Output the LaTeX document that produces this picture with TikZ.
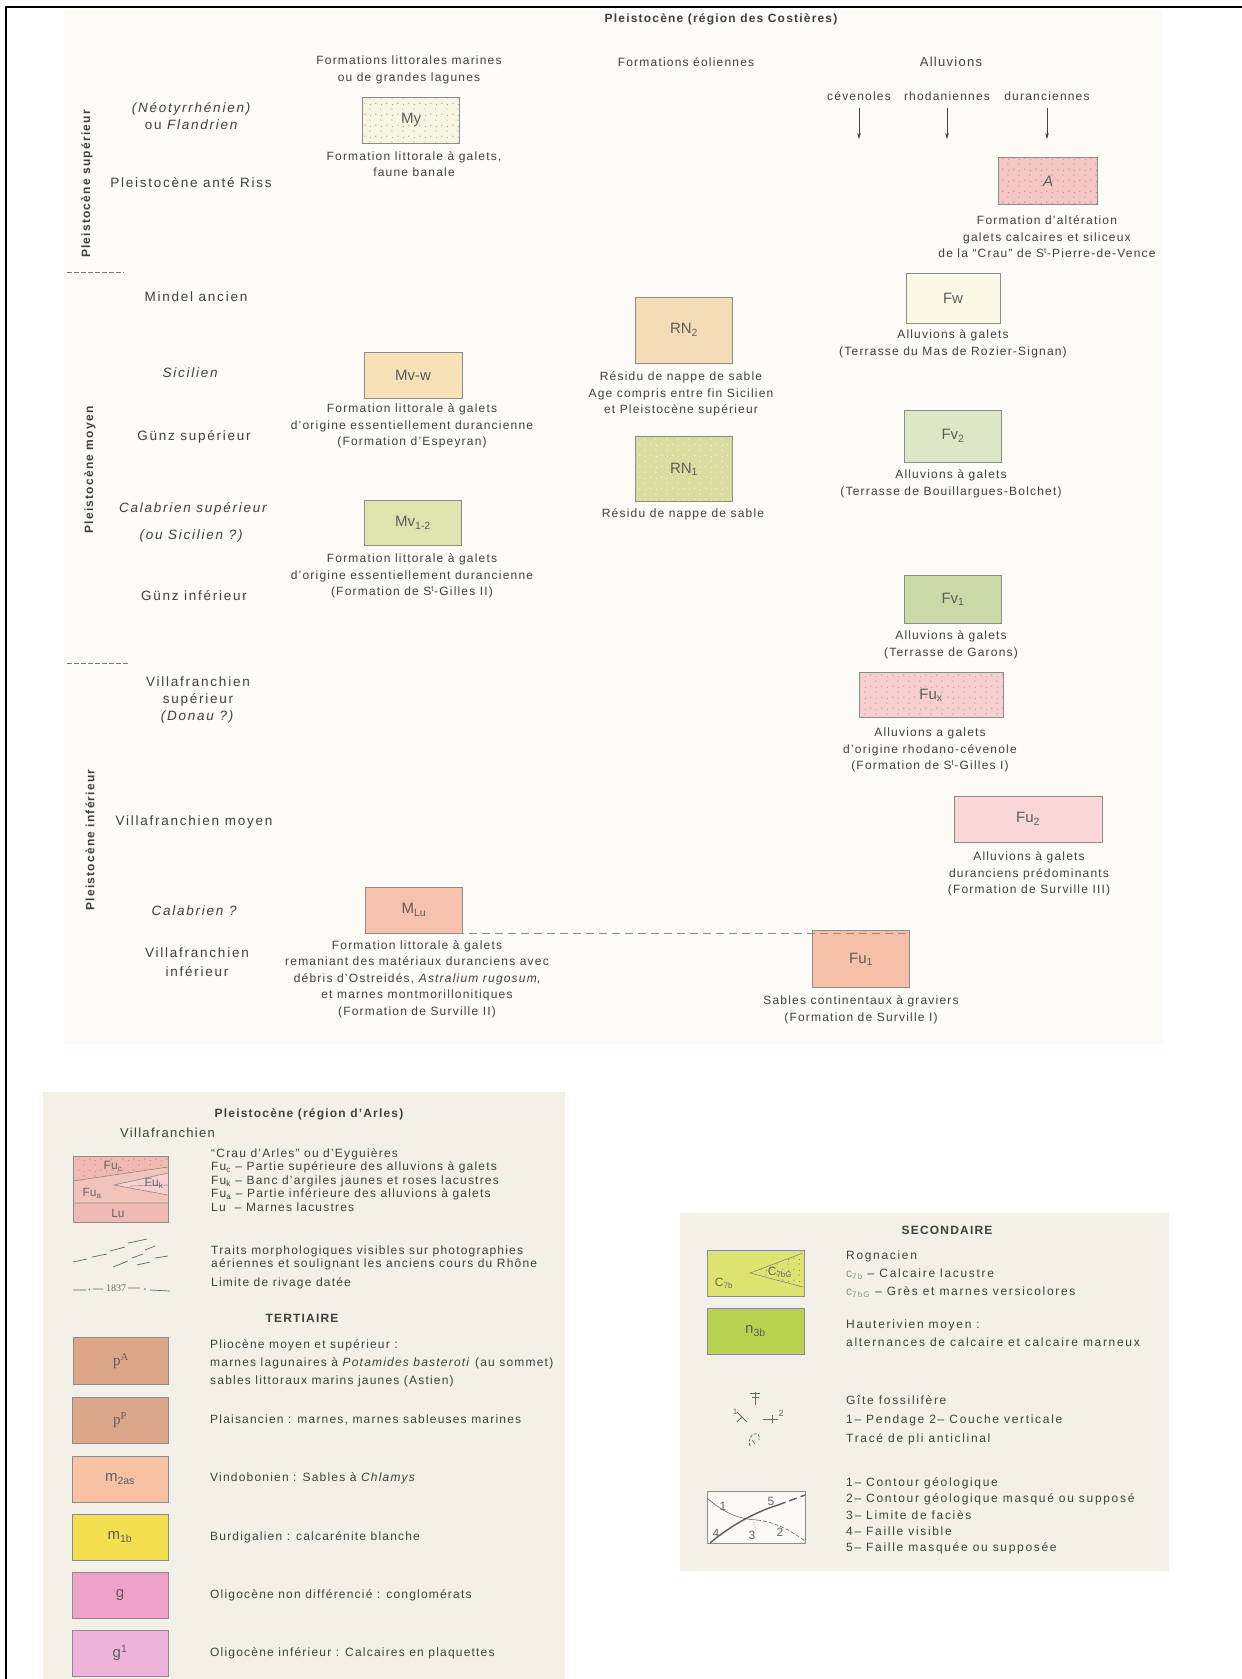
\documentclass[tikz,border=0pt]{standalone}
\usepackage{fontspec}
\setmainfont{Liberation Sans}[LetterSpace=10]
\newfontfamily\agefont{Liberation Sans}[LetterSpace=13, Ligatures=TeX]
\newfontfamily\notefont{Liberation Sans}[LetterSpace=10, Ligatures=TeX]
\newfontfamily\secfont{Liberation Sans}[LetterSpace=14, Ligatures=TeX]
\newfontfamily\tagfont{Liberation Sans}[Ligatures=TeX]
\newfontfamily\oldfont{Liberation Serif}[Ligatures=TeX]
\usetikzlibrary{arrows.meta, patterns.meta, positioning}

\definecolor{ink}{HTML}{404040}
\definecolor{edge}{HTML}{8C8C8C}
\definecolor{paper}{HTML}{FCFBF5}
\definecolor{panel}{HTML}{F2F0E7}
\definecolor{cMy}{HTML}{F7F5E2}
\definecolor{cA}{HTML}{F4C6C4}
\definecolor{cFw}{HTML}{FAF9E6}
\definecolor{cRNb}{HTML}{F4DCB6}
\definecolor{cRNa}{HTML}{D8DC9F}
\definecolor{cMvw}{HTML}{F7E2B8}
\definecolor{cMvz}{HTML}{DDE4AE}
\definecolor{cFvb}{HTML}{DCE7C6}
\definecolor{cFva}{HTML}{C9DAA8}
\definecolor{cFux}{HTML}{F7CFCF}
\definecolor{cFub}{HTML}{F8D7D6}
\definecolor{cFua}{HTML}{F6C0A8}
\definecolor{cML}{HTML}{F6C2AE}
\definecolor{cpA}{HTML}{DDA688}
\definecolor{cpP}{HTML}{DBA68A}
\definecolor{cmza}{HTML}{F7C1A3}
\definecolor{cmib}{HTML}{F2DF4E}
\definecolor{cg}{HTML}{EFA2C9}
\definecolor{cgi}{HTML}{EEB4DB}
\definecolor{cc}{HTML}{DCE36F}
\definecolor{cn}{HTML}{B9D24F}
\definecolor{cFuc}{HTML}{F1B9B1}
\definecolor{cFum}{HTML}{F2C3BB}
\definecolor{cLu}{HTML}{EFBAB3}

\tikzdeclarepattern{
  name=grains,
  type=uncolored,
  bounding box={(0pt,0pt) and (11pt,11pt)},
  tile size={(11pt,11pt)},
  code={
    \pgfpathcircle{\pgfqpoint{2pt}{3pt}}{0.65pt}
    \pgfpathcircle{\pgfqpoint{7.5pt}{8.5pt}}{0.65pt}
    \pgfpathcircle{\pgfqpoint{8pt}{1.5pt}}{0.5pt}
    \pgfusepath{fill}
  }
}

\tikzset{
  every node/.style={text=ink, inner sep=0pt},
  head/.style={font=\bfseries\fontsize{12}{14}\selectfont},
  period/.style={font=\bfseries\fontsize{12}{14}\selectfont, rotate=90},
  age/.style={font=\agefont\fontsize{13.5}{17}\selectfont, align=center},
  desc/.style={font=\fontsize{12}{16.5}\selectfont, align=center},
  note/.style={font=\notefont\fontsize{12}{13.5}\selectfont, align=left, anchor=west},
  secnote/.style={font=\secfont\fontsize{12}{18}\selectfont, align=left, anchor=west},
  unit/.style={draw=edge, line width=0.7pt, minimum width=97pt, minimum height=46pt,
    font=\tagfont\fontsize{15}{15}\selectfont, text=ink!85},
  grainy/.style={preaction={fill=#1}, pattern=grains, pattern color=black!45},
  arr/.style={-{Stealth[length=6pt,width=3.5pt]}, line width=0.6pt, draw=ink},
  sep/.style={dash pattern=on 5pt off 2pt, line width=0.6pt, draw=ink!70},
}

\begin{document}
\begin{tikzpicture}[x=1pt, y=-1pt]
\useasboundingbox (0,0) rectangle (1242,1679);
\fill[white] (0,0) rectangle (1242,1679);
\fill[paper] (64,11) rectangle (1162,1044);
\fill[panel] (43,1092) rectangle (565,1679);
\fill[panel] (680,1213) rectangle (1169,1571);
\draw[line width=1.6pt] (6,1679) -- (6,7) -- (1242,7);

% Costieres: headings
\node[head] (ttl) at (721,19) {Pleistocène (région des Costières)};
\node[desc] (hlit) at (409,70) {Formations littorales marines\\ou de grandes lagunes};
\node[desc] (heol) at (686,62) {Formations éoliennes};
\node[desc, font=\fontsize{13}{15}\selectfont] (hall) at (951,62) {Alluvions};
\node[desc] (cev) at (859,96) {cévenoles};
\node[desc] (rho) at (947,96) {rhodaniennes};
\node[desc] (dur) at (1047,96) {duranciennes};
\coordinate (cevE) at (859,139);
\coordinate (rhoE) at (947,139);
\coordinate (durE) at (1047,139);

% Costieres: ages
\node[period] (psup) at (87,184) {Pleistocène supérieur};
\node[period] (pmoy) at (90,470) {Pleistocène moyen};
\node[period] (pinf) at (90,840) {Pleistocène inférieur};
\node[age] (neo) at (192,116) {\textit{(Néotyrrhénien)}\\ou \textit{Flandrien}};
\node[age] (ante) at (191,183) {Pleistocène anté Riss};
\node[age] (mind) at (196,297) {Mindel ancien};
\node[age] (sic) at (191,373) {\textit{Sicilien}};
\node[age] (gsup) at (194,437) {Günz supérieur};
\node[age] (calsup) at (194,509) {\textit{Calabrien supérieur}};
\node[age] (ousic) at (192,536) {\textit{(ou Sicilien ?)}};
\node[age] (ginf) at (194,596) {Günz inférieur};
\node[age] (vsup) at (198,700) {Villafranchien\\supérieur\\\textit{(Donau ?)}};
\node[age] (vmoy) at (194,822) {Villafranchien moyen};
\node[age] (cal) at (195,911) {\textit{Calabrien ?}};
\node[age, font=\agefont\fontsize{13.5}{19}\selectfont] (vinf) at (197,962) {Villafranchien\\inférieur};
\draw[sep] (67,272) -- (124,272);
\draw[sep] (67,663) -- (130,663);

% Costieres: units
\node[unit, grainy=cMy] (My) at (411,120) {My};
\node[unit, grainy=cA, minimum width=99pt, minimum height=47pt] (A) at (1048,181) {\textit{A}};
\node[unit, fill=cFw, minimum width=94pt, minimum height=50pt] (Fw) at (953,298) {Fw};
\node[unit, fill=cRNb, minimum height=66pt] (RNb) at (684,330) {RN\textsubscript{2}};
\node[unit, grainy=cRNa, pattern color=white, minimum height=65pt] (RNa) at (684,469) {RN\textsubscript{1}};
\node[unit, fill=cMvw, minimum width=98pt] (Mvw) at (413,375) {Mv-w};
\node[unit, fill=cMvz, minimum height=45pt] (Mvz) at (413,523) {Mv\textsubscript{1-2}};
\node[unit, fill=cFvb, minimum height=52pt] (Fvb) at (953,436) {Fv\textsubscript{2}};
\node[unit, fill=cFva, minimum height=48pt] (Fva) at (953,599) {Fv\textsubscript{1}};
\node[unit, grainy=cFux, minimum width=144pt, minimum height=45pt] (Fux) at (931,695) {Fu\textsubscript{x}};
\node[unit, fill=cFub, minimum width=148pt] (Fub) at (1028,819) {Fu\textsubscript{2}};
\node[unit, fill=cML] (ML) at (414,910) {M\textsubscript{Lu}};
\node[unit, fill=cFua, minimum height=57pt] (Fua) at (861,959) {Fu\textsubscript{1}};

% Costieres: descriptions
\node[desc] (dMy) at (414,164) {Formation littorale à galets,\\faune banale};
\node[desc] (dA) at (1047,237) {Formation d'altération\\galets calcaires et siliceux\\de la ``Crau'' de S\textsuperscript{t}-Pierre-de-Vence};
\node[desc] (dFw) at (953,344) {Alluvions à galets\\(Terrasse du Mas de Rozier-Signan)};
\node[desc] (dRNb) at (681,394) {Résidu de nappe de sable\\Age compris entre fin Sicilien\\et Pleistocène supérieur};
\node[desc] (dRNa) at (683,514) {Résidu de nappe de sable};
\node[desc] (dMvw) at (412,426) {Formation littorale à galets\\d'origine essentiellement durancienne\\(Formation d'Espeyran)};
\node[desc] (dFvb) at (951,484) {Alluvions à galets\\(Terrasse de Bouillargues-Bolchet)};
\node[desc] (dMvz) at (412,576) {Formation littorale à galets\\d'origine essentiellement durancienne\\(Formation de S\textsuperscript{t}-Gilles II)};
\node[desc] (dFva) at (951,645) {Alluvions à galets\\(Terrasse de Garons)};
\node[desc] (dFux) at (930,750) {Alluvions a galets\\d'origine rhodano-cévenole\\(Formation de S\textsuperscript{t}-Gilles I)};
\node[desc] (dFub) at (1029,874) {Alluvions à galets\\duranciens prédominants\\(Formation de Surville III)};
\node[desc] (dML) at (417,979) {Formation littorale à galets\\remaniant des matériaux duranciens avec\\débris d'Ostreidés, \textit{Astralium rugosum},\\et marnes montmorillonitiques\\(Formation de Surville II)};
\node[desc] (dFua) at (861,1010) {Sables continentaux à graviers\\(Formation de Surville I)};

\draw[arr] (cev.south) ++(0,7) -- (cevE);
\draw[arr] (rho.south) ++(0,7) -- (rhoE);
\draw[arr] (dur.south) ++(0,7) -- (durE);
\draw[dash pattern=on 8pt off 5pt, line width=0.7pt, draw=edge]
(ML.south west) -- (ML.south west -| Fua.north east);

% Arles
\node[head] (arl) at (309,1114) {Pleistocène (région d'Arles)};
\node[note, font=\notefont\fontsize{13}{15}\selectfont] (vill) at (120,1133) {Villafranchien};
\fill[cFum] (73,1156) rectangle (168,1203);
\path[grainy=cFuc] (73,1156) -- (168,1156) -- (168,1167) -- (73,1181) -- cycle;
\fill[cLu] (73,1203) rectangle (168,1222);
\fill[cFux] (114,1185) -- (168,1173) -- (168,1195) -- cycle;
\draw[edge, line width=0.6pt] (73,1181) -- (168,1167) (114,1185) -- (168,1173) (114,1185) -- (168,1195)
(130,1186) -- (168,1185) (73,1203) -- (168,1203);
\draw[edge, line width=0.8pt] (73,1156) rectangle (168,1222);
\node[font=\tagfont\fontsize{12}{12}\selectfont, text=ink!80] (fuc) at (113,1166) {Fu\textsubscript{c}};
\node[font=\tagfont\fontsize{12}{12}\selectfont, text=ink!80] (fuk) at (154,1183) {Fu\textsubscript{k}};
\node[font=\tagfont\fontsize{12}{12}\selectfont, text=ink!80] (fua) at (92,1193) {Fu\textsubscript{a}};
\node[font=\tagfont\fontsize{12}{12}\selectfont, text=ink!80] (lu) at (118,1213) {Lu};
\node[note] (crau) at (211,1180) {``Crau d'Arles'' ou d'Eyguières\\Fu\textsubscript{c} -- Partie supérieure des alluvions à galets\\Fu\textsubscript{k} -- Banc d'argiles jaunes et roses lacustres\\Fu\textsubscript{a} -- Partie inférieure des alluvions à galets\\Lu\ \ -- Marnes lacustres};
\draw[ink!80, line width=0.7pt]
(73,1262) -- (87,1259) (92,1257) -- (107,1254) (110,1251) -- (125,1247) (128,1243) -- (147,1239)
(113,1267) -- (128,1261) (132,1258) -- (143,1254) (145,1250) -- (155,1246)
(137,1265) -- (150,1262) (155,1258) -- (168,1256);
\draw[ink!80, line width=0.7pt] (73,1290) -- (86,1290) (93,1289) -- (103,1289) (128,1288) -- (140,1288) (150,1290) -- (170,1291);
\fill[ink!80] (89.5,1289.5) circle (0.9) (145,1289) circle (0.9);
\node[font=\oldfont\fontsize{10}{10}\selectfont, text=ink!80] (yr) at (116,1288) {1837};
\node[note, font=\notefont\fontsize{12}{12.5}\selectfont] (traits) at (211,1258) {Traits morphologiques visibles sur photographies\\aériennes et soulignant les anciens cours du Rhône};
\node[note] (rivage) at (211,1283) {Limite de rivage datée};
\node[head] (tert) at (302,1318) {TERTIAIRE};
\node[unit, fill=cpA, minimum width=95pt, minimum height=47pt, font=\oldfont\fontsize{15}{15}\selectfont] (pA) at (121,1361) {p\textsuperscript{A}};
\node[unit, fill=cpP, minimum width=96pt, font=\oldfont\fontsize{15}{15}\selectfont] (pP) at (120,1420) {p\textsuperscript{P}};
\node[unit, fill=cmza, minimum width=96pt] (mza) at (120,1479) {m\textsubscript{2as}};
\node[unit, fill=cmib, minimum width=96pt] (mib) at (120,1537) {m\textsubscript{1b}};
\node[unit, fill=cg, minimum width=96pt] (g) at (120,1595) {g};
\node[unit, fill=cgi, minimum width=96pt] (gi) at (120,1653) {g\textsuperscript{1}};
\node[note, font=\notefont\fontsize{12}{18}\selectfont] (tpA) at (210,1363) {Pliocène moyen et supérieur :\\marnes lagunaires à \textit{Potamides basteroti} (au sommet)\\sables littoraux marins jaunes (Astien)};
\node[note] (tpP) at (210,1420) {Plaisancien : marnes, marnes sableuses marines};
\node[note] (tmza) at (210,1478) {Vindobonien : Sables à \textit{Chlamys}};
\node[note] (tmib) at (210,1537) {Burdigalien : calcarénite blanche};
\node[note] (tg) at (210,1595) {Oligocène non différencié : conglomérats};
\node[note] (tgi) at (210,1653) {Oligocène inférieur : Calcaires en plaquettes};

% Secondaire
\node[head] (sec) at (947,1230) {SECONDAIRE};
\node[unit, fill=cc] (cb) at (755.5,1273) {};
\path[grainy=cc, pattern color=black!55] (750,1273) -- (803,1253) -- (803,1287) -- cycle;
\draw[edge, line width=0.6pt] (803,1253) -- (750,1273) -- (803,1287);
\node[font=\tagfont\fontsize{12}{12}\selectfont, text=ink!80] (cbg) at (780,1272) {C\textsubscript{7bG}};
\node[font=\tagfont\fontsize{12}{12}\selectfont, text=ink!80] (cbl) at (724,1283) {C\textsubscript{7b}};
\node[unit, fill=cn] (nb) at (755.5,1331) {n\textsubscript{3b}};
\node[secnote] (trog) at (846,1274) {Rognacien\\{\color{ink!60}c\textsubscript{7b}} -- Calcaire lacustre\\{\color{ink!60}c\textsubscript{7bG}} -- Grès et marnes versicolores};
\node[secnote] (thau) at (846,1333) {Hauterivien moyen :\\alternances de calcaire et calcaire marneux};
% symbols
\draw[ink!80, line width=0.8pt] (755,1392) -- (755,1405) (750,1393) -- (760,1393) (751.5,1397.5) -- (758.5,1397.5);
\node[font=\fontsize{8}{8}\selectfont, text=ink!80] (one) at (735,1412) {1};
\draw[ink!80, line width=0.8pt] (737,1412) -- (747,1422) (742,1417) -- (737,1422);
\draw[ink!80, line width=0.8pt] (763,1419) -- (778,1419) (772,1415) -- (772,1423);
\node[font=\fontsize{9}{9}\selectfont, text=ink!80] (two) at (781,1413) {2};
\draw[ink!80, line width=0.8pt, dash pattern=on 3pt off 1.5pt] (750,1446) .. controls (746,1432) and (762,1430) .. (759,1440);
\draw[ink!80, line width=0.6pt] (752,1440) -- (755,1444);
\node[secnote, font=\secfont\fontsize{12}{19}\selectfont] (tgite) at (846,1420) {Gîte fossilifère\\1-- Pendage 2-- Couche verticale\\Tracé de pli anticlinal};
\draw[edge, line width=0.8pt, fill=white!60!panel] (707,1491) rectangle (805,1543);
\draw[ink!80, line width=0.6pt] (707,1498) .. controls (725,1514) and (740,1519) .. (757,1520);
\draw[ink!80, line width=0.6pt, dash pattern=on 4pt off 2pt] (757,1520) .. controls (775,1522) and (790,1530) .. (805,1541);
\draw[ink!80, line width=0.6pt, dotted] (754,1522) -- (756,1532);
\draw[ink!85, line width=1.4pt] (710,1543) .. controls (730,1526) and (755,1512) .. (778,1505);
\draw[ink!85, line width=1.4pt, dash pattern=on 8pt off 4pt] (778,1505) -- (805,1495);
\node[font=\fontsize{12}{12}\selectfont, text=ink!80] (fa) at (723,1506) {1};
\node[font=\fontsize{12}{12}\selectfont, text=ink!80] (fe) at (771,1501) {5};
\node[font=\fontsize{12}{12}\selectfont, text=ink!80] (fd) at (716,1533) {4};
\node[font=\fontsize{12}{12}\selectfont, text=ink!80] (fc) at (752,1535) {3};
\node[font=\fontsize{12}{12}\selectfont, text=ink!80] (fb) at (780,1532) {2};
\node[secnote, font=\secfont\fontsize{12}{16.25}\selectfont] (tcont) at (846,1516) {1-- Contour géologique\\2-- Contour géologique masqué ou supposé\\3-- Limite de faciès\\4-- Faille visible\\5-- Faille masquée ou supposée};
\end{tikzpicture}
\end{document}
